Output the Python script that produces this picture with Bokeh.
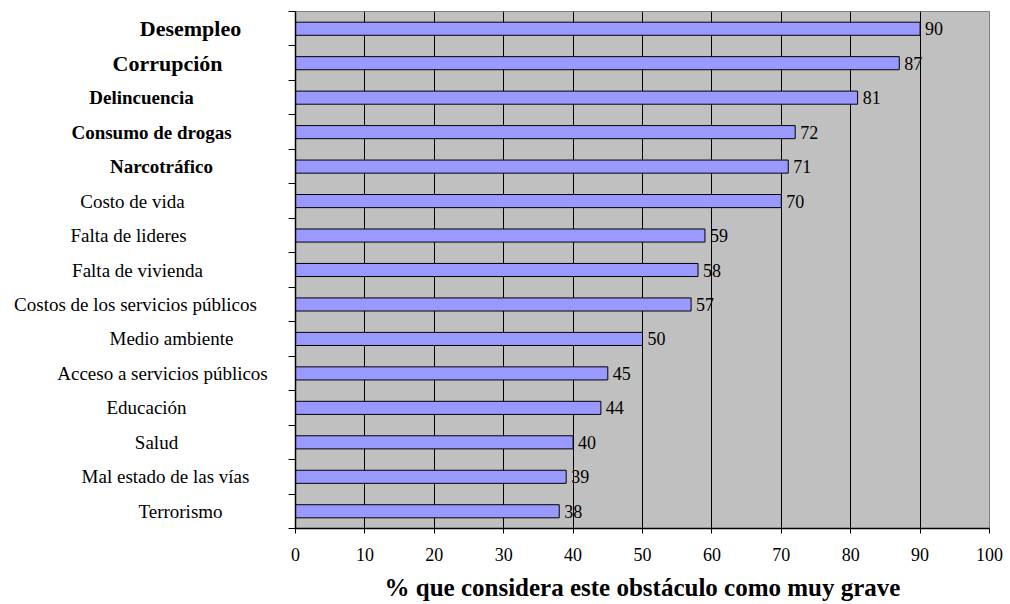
from bokeh.plotting import figure
from bokeh.layouts import row
from bokeh.models import ColumnDataSource, LabelSet, FixedTicker
from bokeh.core.properties import value
from bokeh.embed import file_html
from bokeh.resources import INLINE

# ---- data ----
categories = [
    "Desempleo", "Corrupción", "Delincuencia", "Consumo de drogas", "Narcotráfico",
    "Costo de vida", "Falta de lideres", "Falta de vivienda",
    "Costos de los servicios públicos", "Medio ambiente",
    "Acceso a servicios públicos", "Educación", "Salud",
    "Mal estado de las vías", "Terrorismo",
]
values = [90, 87, 81, 72, 71, 70, 59, 58, 57, 50, 45, 44, 40, 39, 38]
x_ticks = [0, 10, 20, 30, 40, 50, 60, 70, 80, 90, 100]
x_title = "% que considera este obstáculo como muy grave"

# ---- styles (category label centres in px within the label panel) ----
label_center_px = [190, 167, 141, 151, 161, 132, 128, 137, 135,
                   171, 162, 146, 156, 165, 180]
label_size = ["22px", "22px", "19px", "19px", "19px"] + ["19px"] * 10
label_style = ["bold"] * 5 + ["normal"] * 10

FONT = "Liberation Serif"
n = len(categories)
ys = [n - i - 0.5 for i in range(n)]

LEFT_W = 280
TOP, BOTTOM = 11, 76

# ---- label panel (left) ----
lab_src = ColumnDataSource(dict(x=label_center_px, y=ys, t=categories,
                                fs=label_size, st=label_style))
pl = figure(width=LEFT_W, height=604, x_range=(0, LEFT_W), y_range=(0, n),
            x_axis_type=None, y_axis_type=None,
            output_backend="svg", toolbar_location=None,
            min_border_left=0, min_border_right=0,
            min_border_top=TOP, min_border_bottom=BOTTOM)
pl.outline_line_color = None
pl.background_fill_color = "white"
pl.border_fill_color = "white"
pl.grid.grid_line_color = None
pl.text(x="x", y="y", text="t", source=lab_src,
        text_font=value(FONT), text_font_size="fs", text_font_style="st",
        text_align="center", text_baseline="middle", text_color="black")

# ---- chart ----
src = ColumnDataSource(dict(y=ys, v=values, vt=[str(v) for v in values]))

p = figure(width=1010 - LEFT_W, height=604, x_range=(0, 100), y_range=(0, n),
           output_backend="svg", toolbar_location=None,
           min_border_left=15, min_border_right=21,
           min_border_top=TOP, min_border_bottom=BOTTOM)

p.background_fill_color = "#C0C0C0"
p.border_fill_color = "white"
p.outline_line_color = "#808080"
p.outline_line_width = 1

p.hbar(y="y", right="v", left=0, height=0.38, source=src,
       fill_color="#9999FF", line_color="black", line_width=1)

# grid
p.ygrid.grid_line_color = None
p.xgrid.ticker = FixedTicker(ticks=x_ticks[1:-1])
p.xgrid.grid_line_color = "black"
p.xgrid.grid_line_width = 1

# x axis
p.xaxis.ticker = FixedTicker(ticks=x_ticks)
p.xaxis.minor_tick_line_color = None
p.xaxis.major_tick_in = 0
p.xaxis.major_tick_out = 5
p.xaxis.major_tick_line_color = "black"
p.xaxis.axis_line_color = "black"
p.xaxis.axis_line_width = 1.5
p.xaxis.major_label_text_font = FONT
p.xaxis.major_label_text_font_size = "18px"
p.xaxis.major_label_text_color = "black"
p.xaxis.major_label_standoff = 14
p.xaxis.axis_label = x_title
p.xaxis.axis_label_text_font = FONT
p.xaxis.axis_label_text_font_size = "25px"
p.xaxis.axis_label_text_font_style = "bold"
p.xaxis.axis_label_text_color = "black"
p.xaxis.axis_label_standoff = 10

# y axis (boundary ticks only, no tick labels)
p.yaxis.ticker = FixedTicker(ticks=list(range(0, n + 1)))
p.yaxis.minor_tick_line_color = None
p.yaxis.major_tick_in = 0
p.yaxis.major_tick_out = 7
p.yaxis.major_tick_line_color = "black"
p.yaxis.axis_line_color = "black"
p.yaxis.axis_line_width = 1.5
p.yaxis.major_label_standoff = 0
p.yaxis.major_label_overrides = {i: "" for i in range(0, n + 1)}

# value labels
p.add_layout(LabelSet(x="v", y="y", text="vt", source=src, x_offset=5,
                      text_baseline="middle", text_align="left",
                      text_font=FONT, text_font_size="18px",
                      text_color="black"))

layout = row(pl, p, spacing=0)
open("out.html", "w").write(file_html(layout, INLINE))
